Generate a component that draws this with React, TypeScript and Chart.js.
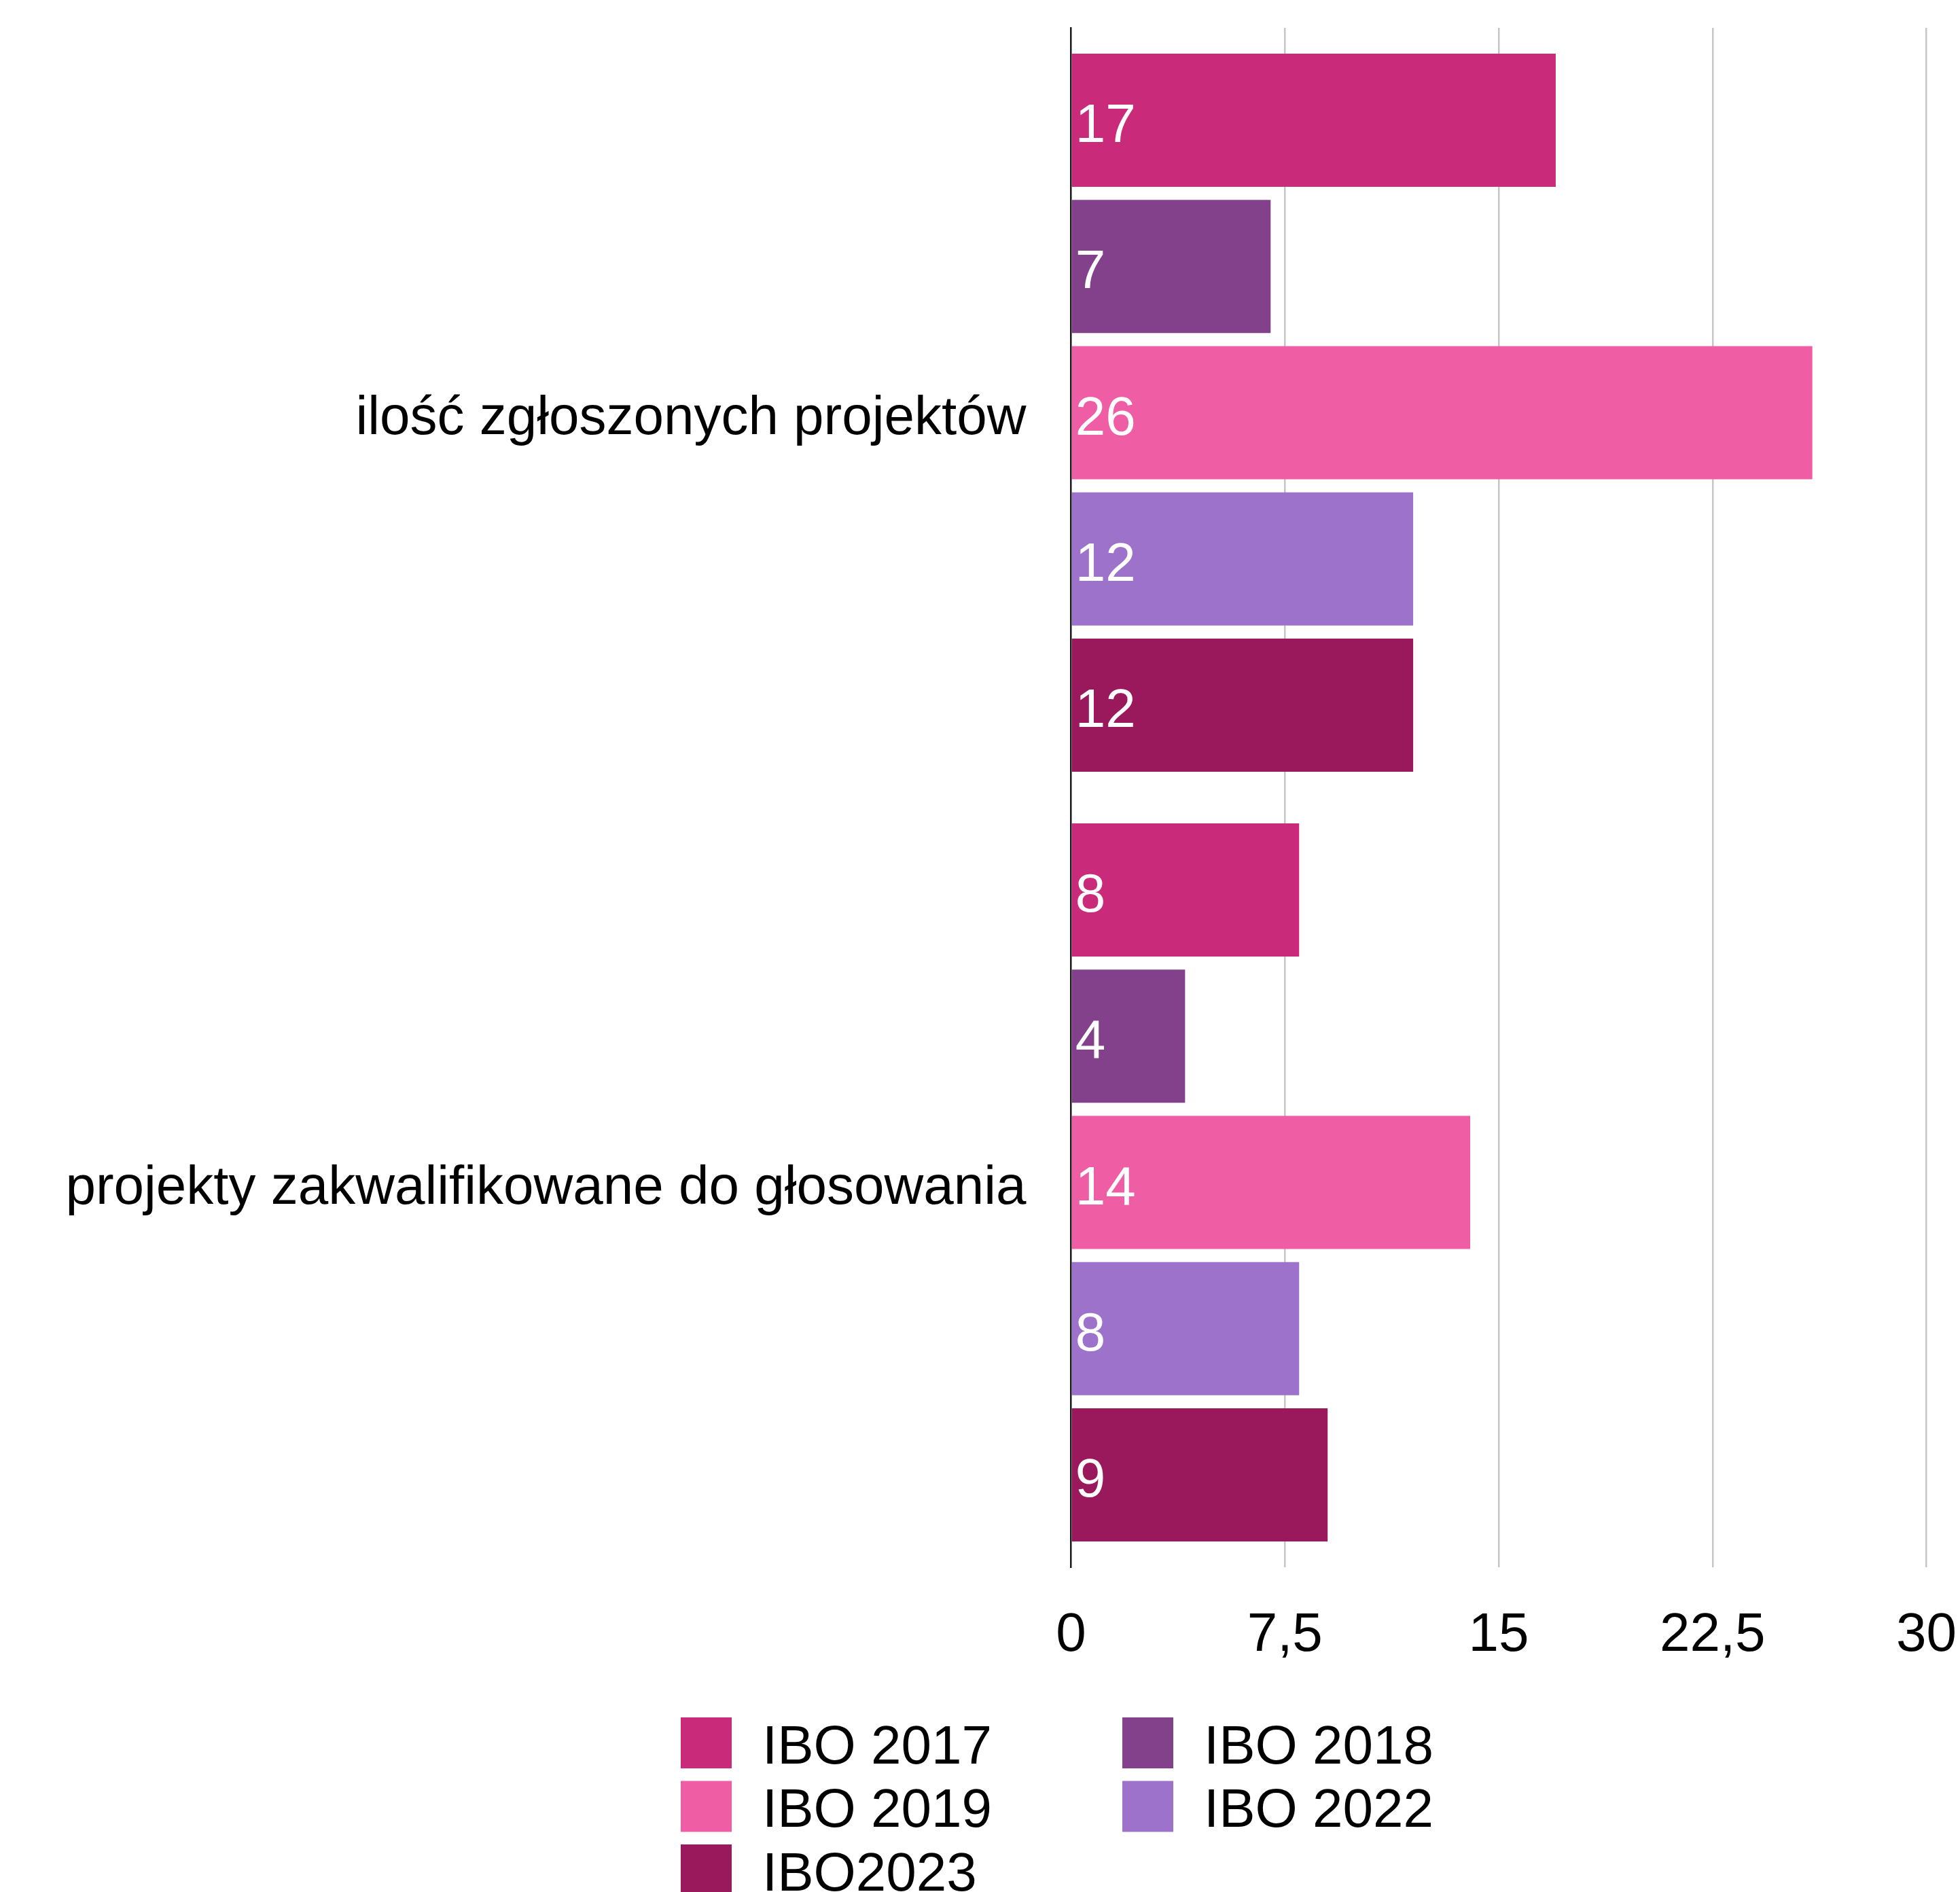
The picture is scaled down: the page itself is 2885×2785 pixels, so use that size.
import React, { useEffect, useRef } from 'react';
import { Chart, registerables } from 'chart.js';

Chart.register(...registerables);

const FONT = "'Liberation Sans', Arial, Helvetica, sans-serif";

// ---- data ----
const CATEGORIES = ['ilość zgłoszonych projektów', 'projekty zakwalifikowane do głosowania'];
const SERIES_NAMES = ['IBO 2017', 'IBO 2018', 'IBO 2019', 'IBO 2022', 'IBO2023'];
const IBO_2017 = [17, 8];
const IBO_2018 = [7, 4];
const IBO_2019 = [26, 14];
const IBO_2022 = [12, 8];
const IBO_2023 = [12, 9];
const SERIES_VALUES = [IBO_2017, IBO_2018, IBO_2019, IBO_2022, IBO_2023];
const SERIES_COLORS = ['#CA2A7A', '#83418B', '#EF5EA5', '#9D72CA', '#9A195D'];
const X_TICKS = [0, 7.5, 15, 22.5, 30];

const valueLabels = {
  id: 'valueLabels',
  afterDatasetsDraw(chart: any) {
    const { ctx } = chart;
    ctx.save();
    ctx.font = `80px ${FONT}`;
    ctx.fillStyle = '#ffffff';
    ctx.textAlign = 'left';
    ctx.textBaseline = 'middle';
    chart.data.datasets.forEach((ds: any, di: number) => {
      const meta = chart.getDatasetMeta(di);
      meta.data.forEach((bar: any, i: number) => {
        const p = bar.getProps(['base', 'y'], true);
        ctx.fillText(String(ds.data[i]), p.base + 5, p.y + 10);
      });
    });
    ctx.restore();
  },
};

const gridLegend = {
  id: 'gridLegend',
  afterDraw(chart: any, _args: any, opts: any) {
    const { ctx } = chart;
    ctx.save();
    ctx.font = `${opts.fontSize}px ${FONT}`;
    ctx.textBaseline = 'middle';
    ctx.textAlign = 'left';
    chart.data.datasets.forEach((ds: any, i: number) => {
      const col = i % opts.columns;
      const row = Math.floor(i / opts.columns);
      const x = opts.left + col * opts.colPitch;
      const y = opts.top + row * opts.rowPitch;
      ctx.fillStyle = ds.backgroundColor;
      ctx.fillRect(x, y, opts.box, opts.box);
      ctx.fillStyle = '#000000';
      ctx.fillText(ds.label, x + opts.textGap, y + opts.box / 2 + 8);
    });
    ctx.restore();
  },
};

export default function App() {
  const ref = useRef<HTMLCanvasElement | null>(null);

  useEffect(() => {
    if (!ref.current) return;
    const chart = new Chart(ref.current, {
      type: 'bar',
      data: {
        labels: CATEGORIES,
        datasets: SERIES_NAMES.map((name, i) => ({
          label: name,
          data: SERIES_VALUES[i],
          backgroundColor: SERIES_COLORS[i],
          borderWidth: 0,
          categoryPercentage: 0.95,
          barPercentage: 0.91,
        })),
      },
      options: {
        indexAxis: 'y',
        responsive: false,
        animation: false,
        devicePixelRatio: 1,
        layout: { padding: { left: 0, right: 49.5, top: 33, bottom: 278 } },
        plugins: {
          legend: { display: false },
          tooltip: { enabled: false },
          gridLegend: {
            columns: 2,
            left: 994,
            colPitch: 650,
            top: 2520,
            rowPitch: 93.5,
            box: 75,
            textGap: 120,
            fontSize: 80,
          },
        } as any,
        scales: {
          x: {
            type: 'linear',
            min: 0,
            max: 30,
            afterBuildTicks: (s: any) => {
              s.ticks = X_TICKS.map((v) => ({ value: v }));
            },
            afterFit: (s: any) => {
              s.height = 200;
              s.paddingLeft = 0;
              s.paddingRight = 0;
            },
            grid: {
              drawTicks: false,
              lineWidth: 2.5,
              color: (c: any) => (c.tick && c.tick.value === 0 ? 'rgba(0,0,0,0)' : '#c6c6c6'),
            },
            border: { display: false },
            ticks: {
              padding: 53,
              color: '#000000',
              font: { family: FONT, size: 80 },
              callback: (v: any) => String(v).replace('.', ','),
            },
          },
          y: {
            type: 'category',
            afterFit: (s: any) => {
              s.width = 1568.5;
              s.paddingTop = 0;
              s.paddingBottom = 0;
            },
            grid: { display: false, drawTicks: false },
            border: { display: true, color: '#1a1a1a', width: 2.5, z: 1 },
            ticks: {
              padding: 66,
              labelOffset: 9,
              color: '#000000',
              font: { family: FONT, size: 80 },
            },
          },
        },
      },
      plugins: [valueLabels, gridLegend],
    } as any);
    return () => chart.destroy();
  }, []);

  return (
    <div style={{ position: 'absolute', left: 8, top: 8, width: 2877, height: 2777 }}>
      <canvas ref={ref} width={2877} height={2777} style={{ display: 'block', width: 2877, height: 2777 }} />
    </div>
  );
}
